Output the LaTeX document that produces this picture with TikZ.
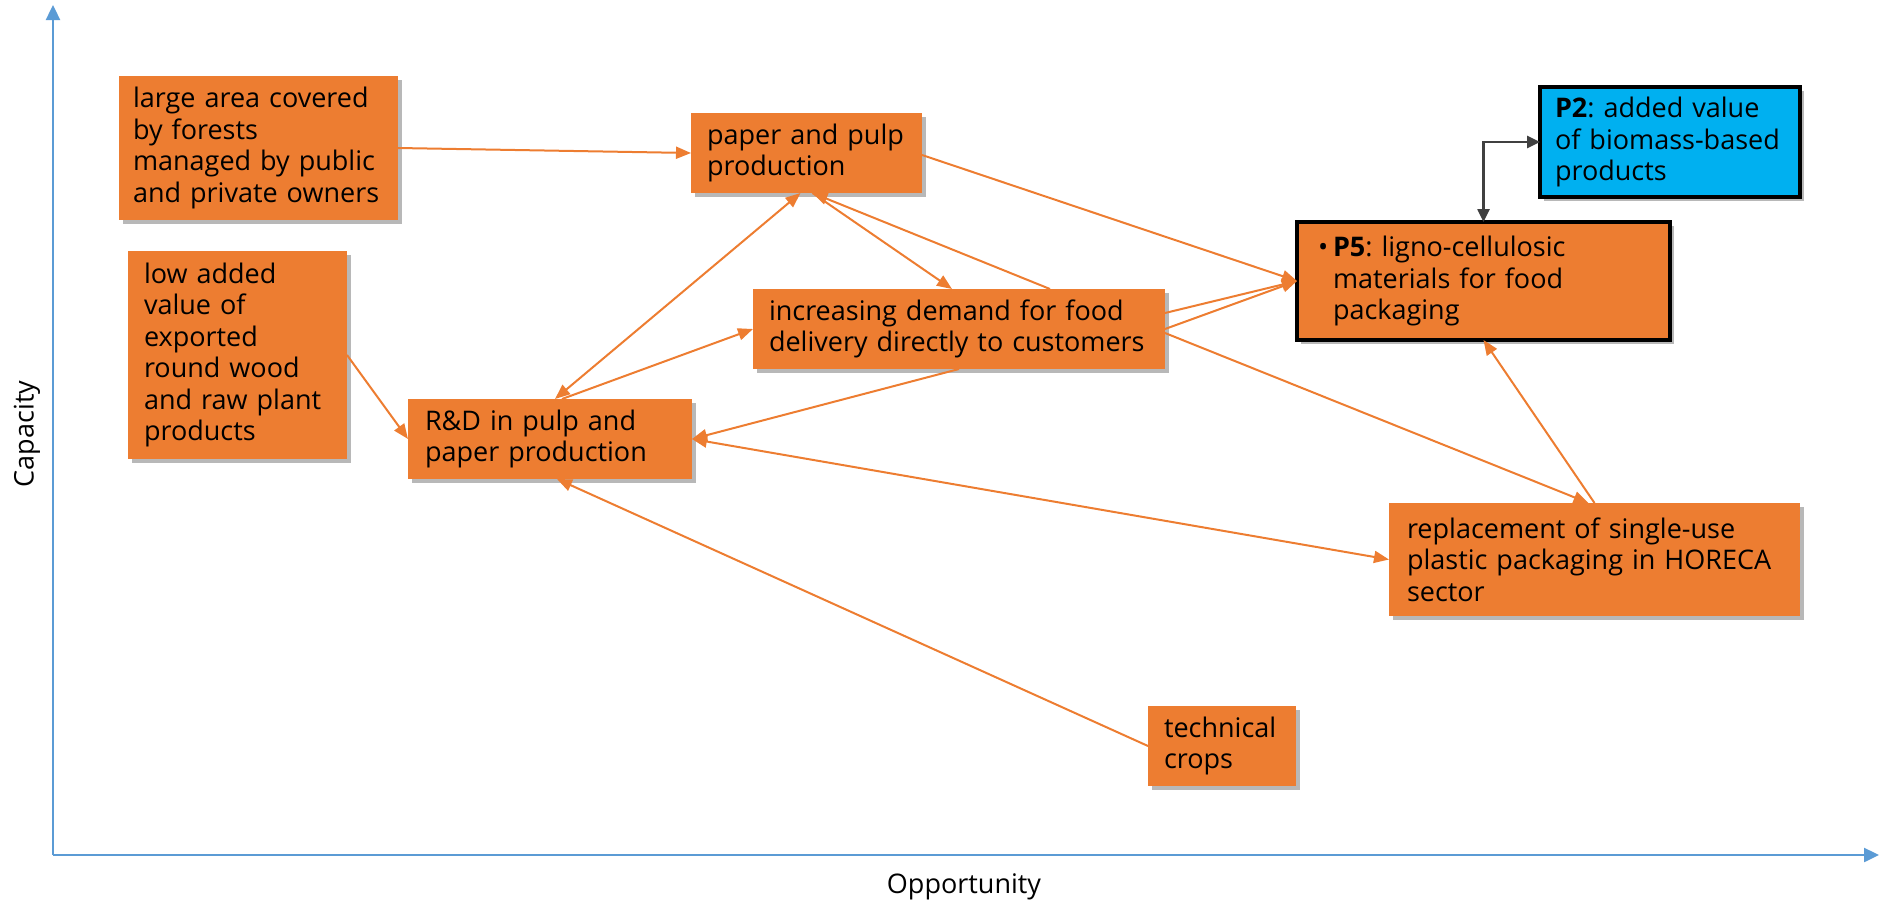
\documentclass[tikz,border=0pt]{standalone}
\usepackage{fontspec}
\setmainfont{Open Sans}
\usetikzlibrary{arrows.meta,shadows}
\definecolor{org}{HTML}{ED7D31}
\definecolor{skyb}{HTML}{00B0F0}
\definecolor{axisc}{HTML}{5B9BD5}
\definecolor{elb}{HTML}{404040}
\frenchspacing
\begin{document}
\begin{tikzpicture}[x=1pt,y=-1pt,
  box/.style={fill=org, anchor=north west, inner xsep=16pt, inner ysep=0pt, outer sep=0pt,
    align=left, font=\fontsize{27}{31.5}\selectfont, text=black,
    drop shadow={shadow xshift=4pt, shadow yshift=-4pt, fill=black, opacity=0.28}},
  keybox/.style={box, draw=black, line width=4pt},
  conn/.style={draw=org, line width=2pt, -{Triangle[length=15pt,width=12pt]}},
  conntwo/.style={draw=org, line width=2pt, {Triangle[length=15pt,width=12pt]}-{Triangle[length=15pt,width=12pt]}},
  elbow/.style={draw=elb, line width=2.6pt, {Triangle[length=13pt,width=12pt]}-{Triangle[length=13pt,width=12pt]}},
  axisln/.style={draw=axisc, line width=2.4pt, -{Triangle[length=15pt,width=14pt]}},
  lbl/.style={font=\fontsize{27}{31.5}\selectfont, text=black, inner sep=0pt}
]
\useasboundingbox (0,0) rectangle (1882,908);

% axes
\coordinate (origin) at (53,855);
\coordinate (ytop) at (53,5);
\coordinate (xend) at (1879,855);
\draw[axisln] (origin) -- (ytop);
\draw[axisln] (origin) -- (xend);
\node[lbl, rotate=90] (cap) at (27,434) {Capacity};
\node[lbl] (opp) at (964,887) {Opportunity};

% boxes
\node[box, inner xsep=14pt, text width=251pt, minimum height=144pt] (large) at (119,76)
  {large area covered\\by forests\\managed by public\\and private owners};
\node[box, text width=199pt, minimum height=80pt] (paper) at (691,113)
  {paper and pulp\\production};
\node[box, text width=187pt, minimum height=208pt] (low) at (128,251)
  {low added\\value of\\exported\\round wood\\and raw plant\\products};
\node[box, text width=380pt, minimum height=80pt] (inc) at (753,289)
  {increasing demand for food\\delivery directly to customers};
\node[box, inner xsep=17pt, text width=250pt, minimum height=80pt] (rd) at (408,399)
  {R\&D in pulp and\\paper production};
\node[keybox, inner xsep=21pt, text width=331pt, minimum height=118pt] (p5) at (1297,222)
  {\makebox[15pt][l]{\textbullet}\textbf{P5}: ligno-cellulosic\\\hspace*{15pt}materials for food\\\hspace*{15pt}packaging};
\node[keybox, fill=skyb, line width=3.6pt, inner xsep=15pt, text width=230pt, minimum height=110pt] (p2) at (1540,87)
  {\textbf{P2}: added value\\of biomass-based\\products};
\node[box, inner xsep=18pt, text width=375pt, minimum height=113pt] (repl) at (1389,503)
  {replacement of single-use\\plastic packaging in HORECA\\sector};
\node[box, inner xsep=16pt, text width=116pt, minimum height=80pt] (tech) at (1148,706)
  {technical\\crops};

% connectors
\draw[conn] (large.east) -- (paper.west);
\draw[conn] (low.east) -- (rd.west);
\draw[conntwo] ([xshift=5pt]rd.north) -- ([xshift=-6pt]paper.south);
\draw[conn] ([xshift=12pt]rd.north) -- (inc.west);
\draw[conn] ([xshift=6pt]paper.south) -- ([xshift=-7pt]inc.north);
\draw[conn] ([xshift=91pt]inc.north) -- ([xshift=6pt]paper.south);
\draw[conn] ([yshift=-2pt]paper.east) -- (p5.west);
\draw[conn] ([yshift=16pt]inc.east) -- (p5.west);
\draw[conn] (inc.east) -- (p5.west);
\draw[conn] ([yshift=-4pt]inc.east) -- ([xshift=-6pt]repl.north);
\draw[conn] (repl.north) -- (p5.south);
\draw[conn] (inc.south) -- (rd.east);
\draw[conntwo] (repl.west) -- (rd.east);
\draw[conn] (tech.west) -- ([xshift=7pt]rd.south);
\draw[elbow] (p5.north) |- (p2.west);
\end{tikzpicture}
\end{document}
